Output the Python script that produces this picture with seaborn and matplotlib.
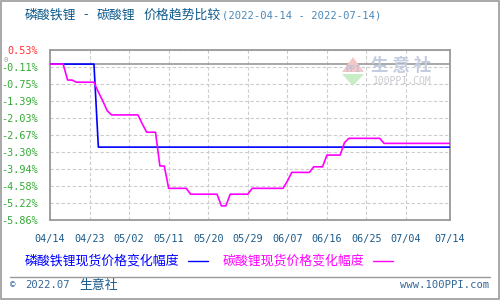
import pandas as pd
import numpy as np
import seaborn as sns
import matplotlib.pyplot as plt
from matplotlib.patches import Polygon, Rectangle
from matplotlib.lines import Line2D

# 数据 (相对 2022-04-14 的天数, 涨跌幅 %)
start = pd.Timestamp("2022-04-14")
lfp_days = [0, 10, 11, 91]
lfp_vals = [0, 0, -3.12, -3.12]
lc_days = [0, 3, 4, 5, 6, 10, 11, 12, 13, 14, 20, 21, 22, 24, 25, 26, 27, 31, 32, 38,
           39, 40, 41, 45, 46, 53, 54, 55, 59, 60, 62, 63, 66, 67, 68, 75, 76, 91]
lc_vals = [0, 0, -0.60, -0.60, -0.68, -0.68, -1.05, -1.38, -1.75, -1.91,
           -1.91, -2.25, -2.56, -2.56, -3.83, -3.83, -4.67, -4.67, -4.89, -4.89,
           -5.33, -5.33, -4.89, -4.89, -4.67, -4.67, -4.40, -4.07, -4.07, -3.86,
           -3.86, -3.42, -3.42, -2.95, -2.79, -2.79, -2.98, -2.98]

x_tick_dates = ["2022-04-14", "2022-04-23", "2022-05-02", "2022-05-11", "2022-05-20", "2022-05-29",
                "2022-06-07", "2022-06-16", "2022-06-25", "2022-07-04", "2022-07-14"]
x_tick_labels = ["04/14", "04/23", "05/02", "05/11", "05/20", "05/29",
                 "06/07", "06/16", "06/25", "07/04", "07/14"]
y_lo, y_hi = -5.86, 0.53
y_tick_labels = ["-5.86%", "-5.22%", "-4.58%", "-3.94%", "-3.30%", "-2.67%",
                 "-2.03%", "-1.39%", "-0.75%", "-0.11%", "0.53%"]

name_lfp = "磷酸铁锂现货价格变化幅度"
name_lc = "碳酸锂现货价格变化幅度"

df_lfp = pd.DataFrame({"date": start + pd.to_timedelta(lfp_days, unit="D"), "value": lfp_vals})
df_lc = pd.DataFrame({"date": start + pd.to_timedelta(lc_days, unit="D"), "value": lc_vals})

sns.set_style("white")
plt.rcParams["font.family"] = ["Noto Sans CJK SC", "DejaVu Sans"]
CJK = ["Noto Sans CJK SC", "DejaVu Sans"]
MONO = "DejaVu Sans Mono"

fig = plt.figure(figsize=(5, 3), dpi=100)
ax = fig.add_axes([50 / 500, 1 - 220 / 300, 400 / 500, 170 / 300])


def px(x, y):
    return x / 500, 1 - y / 300


# 水印
fig.add_artist(Polygon([px(342, 72), px(364, 72), px(353, 57)], closed=True,
                       transform=fig.transFigure, color="#f4c8c8", lw=0))
fig.add_artist(Polygon([px(342, 74), px(364, 74), px(353, 86)], closed=True,
                       transform=fig.transFigure, color="#c8ecc8", lw=0))
fig.text(*px(353, 69), "PPI", color="#b8c4dc", fontsize=6, fontweight="bold",
         family=MONO, ha="center", va="center")
fig.text(*px(401, 66), "生 意 社", color="#c4cce0", fontsize=12.5, family=CJK,
         ha="center", va="center", fontweight="bold")
fig.text(*px(402, 80.5), "100PPI.COM", color="#c8c8d0", fontsize=7, family=MONO,
         ha="center", va="center")

sns.lineplot(data=df_lfp, x="date", y="value", color="#0000ff", lw=1.2, ax=ax, zorder=3)
sns.lineplot(data=df_lc, x="date", y="value", color="#ff00ff", lw=1.2, ax=ax, zorder=4)
ax.axhline(0, color="#999999", lw=1.2, zorder=2)

ax.set_xlim(start, pd.Timestamp("2022-07-14"))
ax.set_ylim(y_lo, y_hi)
ax.set_xticks(pd.to_datetime(x_tick_dates))
ax.set_xticklabels(x_tick_labels, family=MONO, fontsize=7.3, color="#1a5a8a")
ax.set_yticks(np.linspace(y_lo, y_hi, len(y_tick_labels)))
ax.set_yticklabels(y_tick_labels, family=MONO, fontsize=7.3)
for lab in ax.get_yticklabels():
    lab.set_color("#ff3333" if not lab.get_text().startswith("-") else "#33aa33")
ax.tick_params(length=0)
ax.tick_params(axis="y", pad=9)
ax.tick_params(axis="x", pad=10)
ax.set_xlabel("")
ax.set_ylabel("")
ax.grid(True, ls=(0, (3, 2)), color="#cccccc", lw=0.8)
ax.set_axisbelow(True)
for s in ax.spines.values():
    s.set_color("#999999")
    s.set_linewidth(1.3)

fig.text(*px(3, 60.5), "0", color="#999999", fontsize=5, family=MONO, ha="left", va="center")

# 标题
title_color = "#0f5a8c"
fig.text(*px(25, 15), "磷酸铁锂", color=title_color, fontsize=9.3, family=CJK, ha="left", va="center")
fig.text(*px(86, 15), "-", color=title_color, fontsize=9.3, family=CJK, ha="center", va="center")
fig.text(*px(97, 15), "碳酸锂", color=title_color, fontsize=9.3, family=CJK, ha="left", va="center")
fig.text(*px(143, 15), "价格趋势比较", color=title_color, fontsize=9.3, family=CJK, ha="left", va="center")
fig.text(*px(222, 15), "(2022-04-14 - 2022-07-14)", color="#4a88b8", fontsize=7.6,
         family=MONO, ha="left", va="center")

# 图例
fig.text(*px(25, 261), name_lfp, color="#0000ff", fontsize=9.3, family=CJK, ha="left", va="center")
fig.add_artist(Line2D([188 / 500, 208 / 500], [1 - 261 / 300] * 2, color="#0000ff", lw=1))
fig.text(*px(223, 261), name_lc, color="#ff00ff", fontsize=9.3, family=CJK, ha="left", va="center")
fig.add_artist(Line2D([373 / 500, 393 / 500], [1 - 261 / 300] * 2, color="#ff00ff", lw=1))

# 页脚
fig.add_artist(Line2D([10 / 500, 490 / 500], [1 - 277 / 300] * 2, color="#999999", lw=1))
fig.text(*px(10, 285), "©", color="#336699", fontsize=6.5, family=MONO, ha="left", va="center")
fig.text(*px(25, 285), "2022.07", color="#336699", fontsize=7.6, family=MONO, ha="left", va="center")
fig.text(*px(79, 285), "生意社", color="#1a5a8a", fontsize=9.3, family=CJK, ha="left", va="center")
fig.text(*px(489, 285), "www.100PPI.com", color="#336699", fontsize=7.6, family=MONO,
         ha="right", va="center")

fig.add_artist(Rectangle((0.001, 0.002), 0.997, 0.995, transform=fig.transFigure,
                         fill=False, edgecolor="#999999", lw=1.2))

fig.savefig("out.png", dpi=100)
